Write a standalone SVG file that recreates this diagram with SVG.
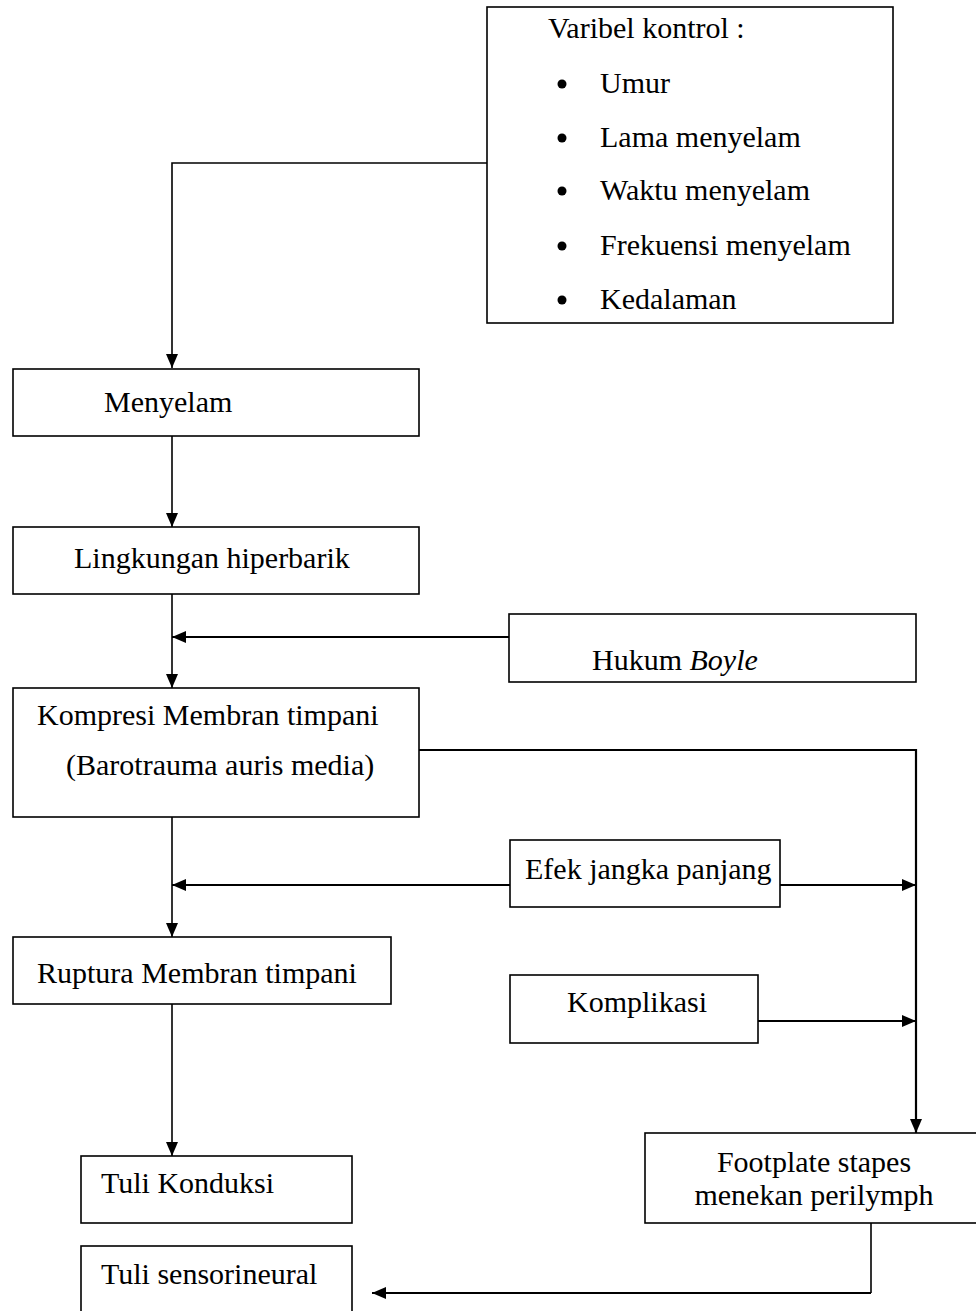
<svg xmlns="http://www.w3.org/2000/svg" width="976" height="1311" viewBox="0 0 976 1311">
<style>
.box{fill:#fff;stroke:#000;stroke-width:1.6}
.t{font-family:"Liberation Serif","Times New Roman",serif;font-size:30px;fill:#000}
.c{fill:none;stroke:#000;stroke-width:1.6}
.a{fill:none;stroke:#000;stroke-width:2.2}
</style>
<defs>
<marker id="ah" viewBox="0 0 14 12" refX="14" refY="6" markerWidth="14" markerHeight="12" markerUnits="userSpaceOnUse" orient="auto">
<path d="M0,0 L14,6 L0,12 Z" fill="#000"/>
</marker>
</defs>
<rect width="976" height="1311" fill="#fff"/>
<g id="connectors">
<path class="c" d="M487,163 H172 V368" marker-end="url(#ah)"/>
<path class="c" d="M172,436 V527" marker-end="url(#ah)"/>
<path class="c" d="M172,594 V688" marker-end="url(#ah)"/>
<path class="a" d="M509,637 H172" marker-end="url(#ah)"/>
<path class="a" d="M419,750 H916 V1133" marker-end="url(#ah)"/>
<path class="c" d="M172,817 V937" marker-end="url(#ah)"/>
<path class="a" d="M510,885 H172" marker-end="url(#ah)"/>
<path class="a" d="M780,885 H916" marker-end="url(#ah)"/>
<path class="a" d="M758,1021 H916" marker-end="url(#ah)"/>
<path class="c" d="M172,999 V1156" marker-end="url(#ah)"/>
<path class="c" d="M871,1223 V1293"/>
<path class="a" d="M871,1293 H372" marker-end="url(#ah)"/>
</g>
<g id="varibel">
<rect class="box" x="487" y="7" width="406" height="316"/>
<text class="t" x="548" y="38">Varibel kontrol :</text>
<circle cx="562" cy="84" r="4.5"/>
<text class="t" x="600" y="93">Umur</text>
<circle cx="562" cy="138" r="4.5"/>
<text class="t" x="600" y="147">Lama menyelam</text>
<circle cx="562" cy="191" r="4.5"/>
<text class="t" x="600" y="200">Waktu menyelam</text>
<circle cx="562" cy="246" r="4.5"/>
<text class="t" x="600" y="255">Frekuensi menyelam</text>
<circle cx="562" cy="300" r="4.5"/>
<text class="t" x="600" y="309">Kedalaman</text>
</g>
<g id="menyelam">
<rect class="box" x="13" y="369" width="406" height="67"/>
<text class="t" x="104" y="412">Menyelam</text>
</g>
<g id="lingkungan">
<rect class="box" x="13" y="527" width="406" height="67"/>
<text class="t" x="74" y="568">Lingkungan hiperbarik</text>
</g>
<g id="boyle">
<rect class="box" x="509" y="614" width="407" height="68"/>
<text class="t" x="592" y="670">Hukum <tspan font-style="italic">Boyle</tspan></text>
</g>
<g id="kompresi">
<rect class="box" x="13" y="688" width="406" height="129"/>
<text class="t" x="37" y="725">Kompresi Membran timpani</text>
<text class="t" x="66" y="775">(Barotrauma auris media)</text>
</g>
<g id="efek">
<rect class="box" x="510" y="840" width="270" height="67"/>
<text class="t" x="525" y="879">Efek jangka panjang</text>
</g>
<g id="ruptura">
<rect class="box" x="13" y="937" width="378" height="67"/>
<text class="t" x="37" y="983">Ruptura Membran timpani</text>
</g>
<g id="komplikasi">
<rect class="box" x="510" y="975" width="248" height="68"/>
<text class="t" x="567" y="1012">Komplikasi</text>
</g>
<g id="footplate">
<rect class="box" x="645" y="1133" width="340" height="90"/>
<text class="t" x="814" y="1172" text-anchor="middle">Footplate stapes</text>
<text class="t" x="814" y="1205" text-anchor="middle">menekan perilymph</text>
</g>
<g id="konduksi">
<rect class="box" x="81" y="1156" width="271" height="67"/>
<text class="t" x="101" y="1193">Tuli Konduksi</text>
</g>
<g id="sensorineural">
<rect class="box" x="81" y="1246" width="271" height="80"/>
<text class="t" x="101" y="1284">Tuli sensorineural</text>
</g>
</svg>
